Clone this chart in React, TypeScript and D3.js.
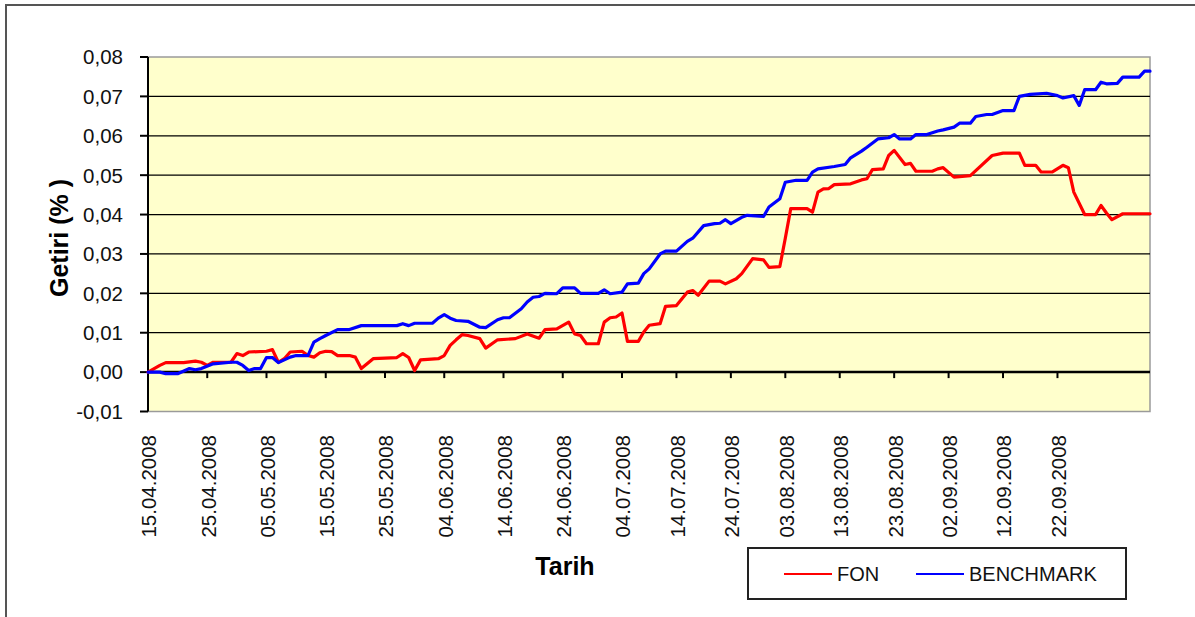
import React, { useEffect, useRef } from 'react';
import * as d3 from 'd3';

// x axis labels, every 10 days
const tickDates = [
  '15.04.2008', '25.04.2008', '05.05.2008', '15.05.2008', '25.05.2008', '04.06.2008',
  '14.06.2008', '24.06.2008', '04.07.2008', '14.07.2008', '24.07.2008', '03.08.2008',
  '13.08.2008', '23.08.2008', '02.09.2008', '12.09.2008', '22.09.2008'
];

const yTicks = [-0.01, 0, 0.01, 0.02, 0.03, 0.04, 0.05, 0.06, 0.07, 0.08];

const fonSeries: [string, number][] = [
  ['15.04.2008', 0], ['17.04.2008', 0.0017], ['18.04.2008', 0.0024], ['21.04.2008', 0.0024],
  ['23.04.2008', 0.0028], ['24.04.2008', 0.0025], ['25.04.2008', 0.0017], ['26.04.2008', 0.0025],
  ['29.04.2008', 0.0025], ['30.04.2008', 0.0047], ['01.05.2008', 0.0042], ['02.05.2008', 0.0051],
  ['05.05.2008', 0.0053], ['06.05.2008', 0.0057], ['07.05.2008', 0.0025], ['08.05.2008', 0.0034],
  ['09.05.2008', 0.0051], ['11.05.2008', 0.0053], ['12.05.2008', 0.0042], ['13.05.2008', 0.0038],
  ['14.05.2008', 0.0049], ['15.05.2008', 0.0053], ['16.05.2008', 0.0052], ['17.05.2008', 0.0042],
  ['19.05.2008', 0.0042], ['20.05.2008', 0.0038], ['21.05.2008', 0.0009], ['23.05.2008', 0.0034],
  ['27.05.2008', 0.0037], ['28.05.2008', 0.0047], ['29.05.2008', 0.0037], ['30.05.2008', 0.0004],
  ['31.05.2008', 0.0031], ['03.06.2008', 0.0034], ['04.06.2008', 0.0042], ['05.06.2008', 0.0068],
  ['06.06.2008', 0.0082], ['07.06.2008', 0.0095], ['08.06.2008', 0.0093], ['10.06.2008', 0.0085],
  ['11.06.2008', 0.0061], ['13.06.2008', 0.0082], ['16.06.2008', 0.0085], ['18.06.2008', 0.0097],
  ['20.06.2008', 0.0086], ['21.06.2008', 0.0108], ['23.06.2008', 0.011], ['25.06.2008', 0.0127],
  ['26.06.2008', 0.0097], ['27.06.2008', 0.0093], ['28.06.2008', 0.0072], ['30.06.2008', 0.0072],
  ['01.07.2008', 0.0127], ['02.07.2008', 0.0138], ['03.07.2008', 0.014], ['04.07.2008', 0.015],
  ['05.07.2008', 0.0078], ['07.07.2008', 0.0078], ['08.07.2008', 0.0102], ['09.07.2008', 0.0119],
  ['11.07.2008', 0.0123], ['12.07.2008', 0.0167], ['14.07.2008', 0.0169], ['16.07.2008', 0.0203],
  ['17.07.2008', 0.0207], ['18.07.2008', 0.0195], ['20.07.2008', 0.0231], ['22.07.2008', 0.0231],
  ['23.07.2008', 0.0224], ['25.07.2008', 0.0237], ['26.07.2008', 0.025], ['28.07.2008', 0.0288],
  ['30.07.2008', 0.0285], ['31.07.2008', 0.0266], ['02.08.2008', 0.0268], ['03.08.2008', 0.034],
  ['04.08.2008', 0.0415], ['07.08.2008', 0.0415], ['08.08.2008', 0.0406], ['09.08.2008', 0.0457],
  ['10.08.2008', 0.0465], ['11.08.2008', 0.0466], ['12.08.2008', 0.0476], ['15.08.2008', 0.0478],
  ['17.08.2008', 0.0488], ['18.08.2008', 0.0491], ['19.08.2008', 0.0514], ['21.08.2008', 0.0516],
  ['22.08.2008', 0.055], ['23.08.2008', 0.0563], ['25.08.2008', 0.0527], ['26.08.2008', 0.053],
  ['27.08.2008', 0.051], ['30.08.2008', 0.051], ['31.08.2008', 0.0516], ['01.09.2008', 0.0519],
  ['03.09.2008', 0.0495], ['06.09.2008', 0.0499], ['10.09.2008', 0.055], ['12.09.2008', 0.0556],
  ['15.09.2008', 0.0556], ['16.09.2008', 0.0525], ['18.09.2008', 0.0525], ['19.09.2008', 0.0508],
  ['21.09.2008', 0.0508], ['23.09.2008', 0.0525], ['24.09.2008', 0.0519], ['25.09.2008', 0.0457],
  ['27.09.2008', 0.04], ['29.09.2008', 0.04], ['30.09.2008', 0.0423], ['01.10.2008', 0.0404],
  ['02.10.2008', 0.0387], ['04.10.2008', 0.0402], ['09.10.2008', 0.0402]
];

const benchmarkSeries: [string, number][] = [
  ['15.04.2008', 0], ['17.04.2008', 0], ['18.04.2008', -0.0004], ['20.04.2008', -0.0004],
  ['22.04.2008', 0.0009], ['23.04.2008', 0.0006], ['24.04.2008', 0.0009], ['26.04.2008', 0.0021],
  ['29.04.2008', 0.0025], ['30.04.2008', 0.0025], ['01.05.2008', 0.0017], ['02.05.2008', 0.0004],
  ['03.05.2008', 0.0009], ['04.05.2008', 0.0009], ['05.05.2008', 0.0037], ['06.05.2008', 0.0037],
  ['07.05.2008', 0.0024], ['09.05.2008', 0.0038], ['10.05.2008', 0.0042], ['12.05.2008', 0.0042],
  ['13.05.2008', 0.0076], ['14.05.2008', 0.0085], ['15.05.2008', 0.0093], ['17.05.2008', 0.0108],
  ['19.05.2008', 0.0108], ['21.05.2008', 0.0118], ['27.05.2008', 0.0118], ['28.05.2008', 0.0123],
  ['29.05.2008', 0.0118], ['30.05.2008', 0.0124], ['02.06.2008', 0.0124], ['03.06.2008', 0.0137],
  ['04.06.2008', 0.0146], ['05.06.2008', 0.0137], ['06.06.2008', 0.0131], ['08.06.2008', 0.0129],
  ['10.06.2008', 0.0114], ['11.06.2008', 0.0113], ['13.06.2008', 0.0133], ['14.06.2008', 0.0138],
  ['15.06.2008', 0.0138], ['17.06.2008', 0.0161], ['18.06.2008', 0.0178], ['19.06.2008', 0.019],
  ['20.06.2008', 0.0192], ['21.06.2008', 0.02], ['23.06.2008', 0.0199], ['24.06.2008', 0.0214],
  ['26.06.2008', 0.0214], ['27.06.2008', 0.02], ['30.06.2008', 0.02], ['01.07.2008', 0.0209],
  ['02.07.2008', 0.0199], ['04.07.2008', 0.0203], ['05.07.2008', 0.0224], ['07.07.2008', 0.0226],
  ['08.07.2008', 0.025], ['09.07.2008', 0.0262], ['11.07.2008', 0.03], ['12.07.2008', 0.0307],
  ['14.07.2008', 0.0307], ['16.07.2008', 0.0332], ['17.07.2008', 0.034], ['19.07.2008', 0.0372],
  ['21.07.2008', 0.0377], ['22.07.2008', 0.0378], ['23.07.2008', 0.0387], ['24.07.2008', 0.0377],
  ['26.07.2008', 0.0393], ['27.07.2008', 0.0398], ['30.07.2008', 0.0395], ['31.07.2008', 0.0419],
  ['02.08.2008', 0.044], ['03.08.2008', 0.0482], ['05.08.2008', 0.0487], ['07.08.2008', 0.0487],
  ['08.08.2008', 0.0508], ['09.08.2008', 0.0516], ['12.08.2008', 0.0522], ['14.08.2008', 0.0527],
  ['15.08.2008', 0.0544], ['17.08.2008', 0.0561], ['18.08.2008', 0.0571], ['20.08.2008', 0.0592],
  ['22.08.2008', 0.0595], ['23.08.2008', 0.0603], ['24.08.2008', 0.0592], ['26.08.2008', 0.0592],
  ['27.08.2008', 0.0603], ['29.08.2008', 0.0603], ['31.08.2008', 0.0612], ['01.09.2008', 0.0615],
  ['03.09.2008', 0.0622], ['04.09.2008', 0.0632], ['06.09.2008', 0.0632], ['07.09.2008', 0.0649],
  ['09.09.2008', 0.0654], ['10.09.2008', 0.0654], ['12.09.2008', 0.0664], ['14.09.2008', 0.0664],
  ['15.09.2008', 0.07], ['17.09.2008', 0.0705], ['20.09.2008', 0.0708], ['22.09.2008', 0.0702],
  ['23.09.2008', 0.0696], ['25.09.2008', 0.0702], ['26.09.2008', 0.0677], ['27.09.2008', 0.0717],
  ['29.09.2008', 0.0717], ['30.09.2008', 0.0736], ['01.10.2008', 0.0732], ['03.10.2008', 0.0733],
  ['04.10.2008', 0.0749], ['07.10.2008', 0.0749], ['08.10.2008', 0.0764], ['09.10.2008', 0.0764]
];

const legendItems = [
  { label: 'FON', color: '#ff0000' },
  { label: 'BENCHMARK', color: '#0000ff' }
];

const FONT = 'Arial, "Liberation Sans", sans-serif';

const App: React.FC = () => {
  const svgRef = useRef<SVGSVGElement>(null);

  useEffect(() => {
    if (!svgRef.current) return;
    const width = 1195;
    const height = 617;
    const svg = d3.select(svgRef.current).attr('width', width).attr('height', height);
    svg.selectAll('*').remove();

    const parse = d3.timeParse('%d.%m.%Y');
    const plot = { left: 148, right: 1150, top: 57, bottom: 411.5 };

    // the category axis is not uniform: days before 04.07 are wider than after
    const xScale = d3.scaleTime()
      .domain([parse('15.04.2008')!, parse('04.07.2008')!, parse('09.10.2008')!])
      .range([plot.left, 622, plot.right]);
    const yScale = d3.scaleLinear().domain([-0.01, 0.08]).range([plot.bottom, plot.top]);

    const locale = d3.formatLocale({ decimal: ',', thousands: '.', grouping: [3], currency: ['', ''], minus: '-' });
    const fmt = locale.format('.2f');

    // outer frame
    svg.append('rect')
      .attr('x', 6).attr('y', 5).attr('width', 1200).attr('height', 700)
      .attr('fill', '#ffffff').attr('stroke', '#555555').attr('stroke-width', 2);

    // plot background
    svg.append('rect')
      .attr('x', plot.left).attr('y', plot.top)
      .attr('width', plot.right - plot.left).attr('height', plot.bottom - plot.top)
      .attr('fill', '#ffffcc').attr('stroke', '#9a9a9a').attr('stroke-width', 1.5);

    // gridlines
    svg.append('g').selectAll('line')
      .data(yTicks.filter(v => v > 0 && v < 0.08))
      .enter().append('line')
      .attr('x1', plot.left).attr('x2', plot.right)
      .attr('y1', d => yScale(d)).attr('y2', d => yScale(d))
      .attr('stroke', '#000').attr('stroke-width', 1.3);

    // y axis
    const yAxis = svg.append('g');
    yAxis.append('line')
      .attr('x1', plot.left).attr('x2', plot.left)
      .attr('y1', plot.top).attr('y2', plot.bottom)
      .attr('stroke', '#000').attr('stroke-width', 2);
    yAxis.selectAll('.ytick')
      .data(yTicks).enter().append('line')
      .attr('x1', plot.left - 8).attr('x2', plot.left)
      .attr('y1', d => yScale(d)).attr('y2', d => yScale(d))
      .attr('stroke', '#000').attr('stroke-width', 2);
    yAxis.selectAll('text')
      .data(yTicks).enter().append('text')
      .attr('x', 123).attr('y', d => yScale(d)).attr('dy', '0.36em')
      .attr('text-anchor', 'end')
      .style('font-family', FONT).style('font-size', '20.5px').style('fill', '#111')
      .text(d => fmt(d));

    // x axis at zero
    const y0 = yScale(0);
    const xAxis = svg.append('g');
    xAxis.append('line')
      .attr('x1', plot.left).attr('x2', plot.right)
      .attr('y1', y0).attr('y2', y0)
      .attr('stroke', '#000').attr('stroke-width', 2.5);
    const tickParsed = tickDates.map(t => ({ label: t, date: parse(t)! }));
    xAxis.selectAll('.xtick')
      .data(tickParsed).enter().append('line')
      .attr('x1', d => xScale(d.date)).attr('x2', d => xScale(d.date))
      .attr('y1', y0).attr('y2', y0 + 6)
      .attr('stroke', '#000').attr('stroke-width', 2);
    xAxis.selectAll('text')
      .data(tickParsed).enter().append('text')
      .attr('transform', d => `translate(${xScale(d.date) + 1},435) rotate(-90)`)
      .attr('dy', '0.36em')
      .attr('text-anchor', 'end')
      .style('font-family', FONT).style('font-size', '20.5px').style('fill', '#111')
      .text(d => d.label);

    // lines
    const line = d3.line<[string, number]>()
      .x(d => xScale(parse(d[0])!))
      .y(d => yScale(d[1]));

    [
      { data: fonSeries, color: legendItems[0].color },
      { data: benchmarkSeries, color: legendItems[1].color }
    ].forEach(s => {
      svg.append('path')
        .datum(s.data)
        .attr('d', line)
        .attr('fill', 'none')
        .attr('stroke', s.color)
        .attr('stroke-width', 3.2)
        .attr('stroke-linejoin', 'round')
        .attr('stroke-linecap', 'round');
    });

    // axis titles
    svg.append('text')
      .attr('transform', 'translate(59,238) rotate(-90)')
      .attr('dy', '0.36em')
      .attr('text-anchor', 'middle')
      .style('font-family', FONT).style('font-size', '25px').style('font-weight', 'bold')
      .text('Getiri (% )');
    svg.append('text')
      .attr('x', 565).attr('y', 575)
      .attr('text-anchor', 'middle')
      .style('font-family', FONT).style('font-size', '25px').style('font-weight', 'bold')
      .text('Tarih');

    // legend
    const legend = svg.append('g');
    legend.append('rect')
      .attr('x', 748).attr('y', 548).attr('width', 378).attr('height', 51)
      .attr('fill', '#fff').attr('stroke', '#222').attr('stroke-width', 2);
    const itemX = [784, 916];
    legendItems.forEach((it, i) => {
      legend.append('line')
        .attr('x1', itemX[i]).attr('x2', itemX[i] + 48)
        .attr('y1', 574).attr('y2', 574)
        .attr('stroke', it.color).attr('stroke-width', 2);
      legend.append('text')
        .attr('x', itemX[i] + 53).attr('y', 574).attr('dy', '0.36em')
        .style('font-family', FONT).style('font-size', '20px').style('fill', '#111')
        .text(it.label);
    });
  }, []);

  return (
    <svg ref={svgRef} style={{ position: 'absolute', left: 0, top: 0, display: 'block' }} />
  );
};

export default App;
